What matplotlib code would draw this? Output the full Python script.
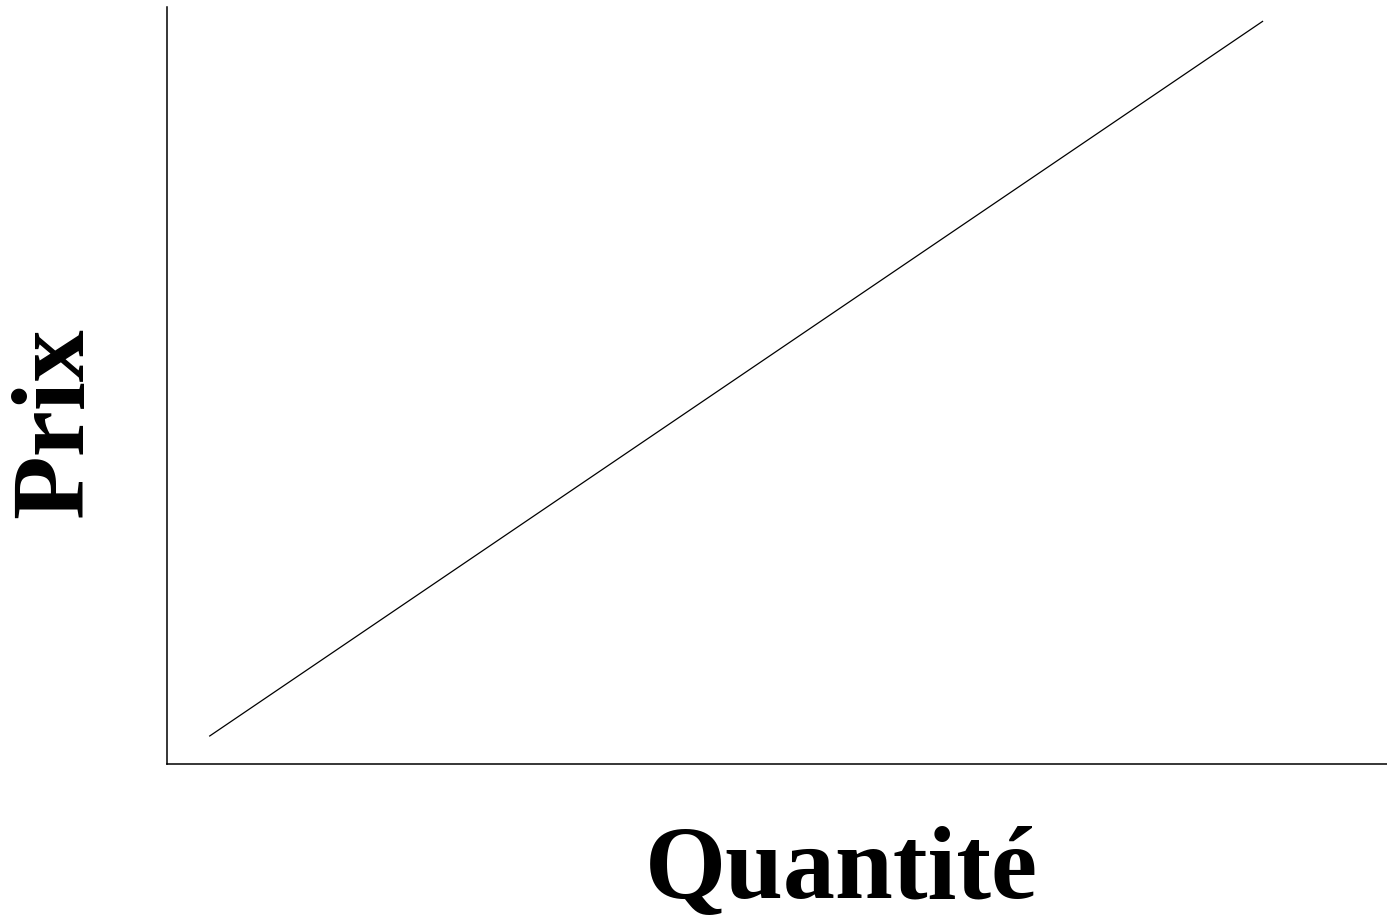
import matplotlib
matplotlib.use("Agg")
import matplotlib.pyplot as plt

quantite = [0.35, 8.98]
prix = [0.37, 9.81]

W, H = 1387, 921
fig = plt.figure(figsize=(W / 100, H / 100), dpi=100)
left, right, bottom, top = 167, 1387, 764, 7
ax = fig.add_axes([left / W, (H - bottom) / H, (right - left) / W, (bottom - top) / H])
ax.plot(quantite, prix, color="black", linewidth=0.9)
ax.set_xlim(0, 10)
ax.set_ylim(0, 10)
ax.set_xticks([])
ax.set_yticks([])
for s in ("top", "right"):
    ax.spines[s].set_visible(False)
for s in ("left", "bottom"):
    ax.spines[s].set_linewidth(1.1)
    ax.spines[s].set_color("black")

font = dict(family=["Liberation Serif", "DejaVu Serif"], weight="bold", size=75)
fig.text(841 / W, 1 - 873 / H, "Quantité", ha="center", va="center", **font)
fig.text(57 / W, 1 - 423 / H, "Prix", ha="center", va="center", rotation=90, **font)

fig.savefig("out.png", dpi=100, facecolor="white")
